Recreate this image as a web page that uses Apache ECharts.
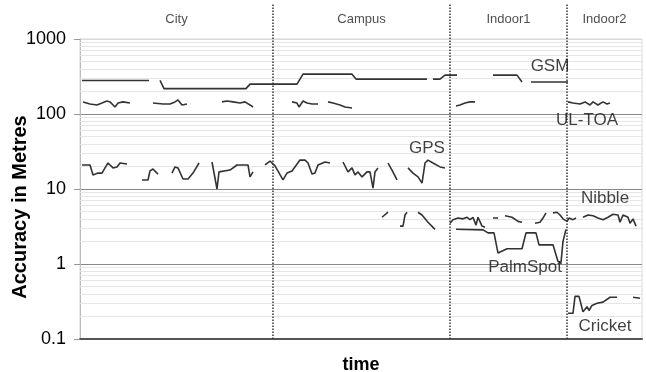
<!DOCTYPE html>
<html>
<head>
<meta charset="utf-8">
<script src="https://cdn.jsdelivr.net/npm/echarts@6/dist/echarts.min.js"></script>
<style>
  html, body { margin: 0; padding: 0; background: #fff; }
  #chart { width: 646px; height: 372px; }
</style>
</head>
<body>
<div id="chart"></div>
<script>
// time axis runs 0..562, environments split at these times
const tMax = 562;
const regions = ["City", "Campus", "Indoor1", "Indoor2"];
const bounds = [0, 193, 370, 487, 562];

// log grid
const yTicks = [0.1, 1, 10, 100, 1000];
const minorVals = [0.2, 0.3, 0.4, 0.5, 0.6, 0.7, 0.8, 0.9, 2, 3, 4, 5, 6, 7, 8, 9,
  20, 30, 40, 50, 60, 70, 80, 90, 200, 300, 400, 500, 600, 700, 800, 900];

// each system: list of segments of [time, metres]
const gsm = [
  [[2, 280], [69, 280]],
  [[80, 280], [84, 218], [166, 218], [170, 250], [217, 250], [223, 340], [272, 340], [276, 292], [347, 292]],
  [[353, 292], [360, 292], [365, 330], [377, 330]],
  [[413, 330], [437, 330], [442, 267]],
  [[451, 267], [488, 267]]
];
const ulToa = [
  [[3, 145], [10, 136], [17, 132], [22, 140], [27, 149], [30, 145], [35, 124], [38, 140], [43, 145], [50, 140]],
  [[73, 140], [83, 136], [90, 136], [95, 145], [98, 154], [102, 132], [104, 140], [107, 136]],
  [[142, 145], [147, 149], [153, 145], [160, 140], [165, 145], [170, 132], [173, 124]],
  [[212, 145], [217, 140], [219, 124], [223, 149], [227, 140], [232, 136], [238, 136]],
  [[248, 145], [253, 140], [260, 132], [265, 124], [272, 120]],
  [[376, 128], [380, 132], [385, 140], [390, 145], [395, 145]],
  [[488, 145], [493, 140], [500, 136], [505, 145], [510, 132], [513, 145], [518, 132], [523, 145], [527, 136], [530, 140]]
];
const gps = [
  [[2, 20.9], [10, 20.9], [13, 15.4], [18, 16.3], [22, 16.3], [25, 19.1], [28, 22.2], [33, 19.1], [37, 19.7], [40, 22.2], [47, 21.5]],
  [[62, 13.2], [68, 13.2], [70, 17.4], [73, 18.5], [78, 15.8]],
  [[92, 16.3], [95, 19.7], [98, 19.1], [103, 13.6], [108, 13.6], [113, 16.3], [119, 22.2]],
  [[132, 22.9], [137, 10.0], [139, 16.9], [150, 17.9], [157, 20.9], [168, 20.9], [170, 14.5], [173, 16.9]],
  [[185, 20.9], [190, 23.6], [195, 20.3], [203, 13.2], [207, 16.3], [212, 17.4], [220, 24.3], [225, 24.3], [228, 22.2], [232, 15.8], [235, 16.3], [238, 20.9], [245, 22.9], [250, 22.2]],
  [[263, 22.9], [268, 16.9], [272, 19.1], [275, 15.4], [278, 16.9], [282, 14.5], [287, 16.9], [290, 16.9], [293, 10.3], [295, 16.9], [298, 19.1]],
  [[308, 22.2], [312, 17.9], [317, 13.2]],
  [[328, 19.1], [333, 16.3], [338, 14.5], [342, 12.0], [345, 22.2], [348, 24.3], [353, 22.2], [360, 19.7], [365, 19.1]]
];
const nibble = [
  [[302, 4.2], [308, 4.9]],
  [[320, 3.2], [323, 3.2], [325, 4.5], [327, 4.9]],
  [[338, 4.9], [342, 4.5], [348, 3.6], [355, 2.9]],
  [[370, 3.5], [373, 3.9], [378, 4.1], [383, 4.0], [387, 4.2], [390, 3.9], [393, 4.2], [396, 3.3], [398, 4.2], [402, 3.2], [405, 3.1]],
  [[413, 4.1], [418, 4.1]],
  [[425, 4.4], [432, 4.2], [438, 3.7], [442, 3.6]],
  [[455, 3.5], [460, 3.6], [463, 4.1], [466, 4.8]],
  [[473, 4.8], [477, 4.9], [480, 4.5], [483, 4.0], [487, 3.7], [489, 4.1], [493, 3.9], [496, 4.1]],
  [[503, 4.2], [508, 4.5], [513, 4.4], [518, 4.1], [523, 3.9], [528, 4.2], [533, 4.6], [538, 4.5], [540, 3.6], [543, 4.5], [548, 4.2], [550, 3.5], [553, 4.0], [556, 3.2]]
];
const palmSpot = [
  [[376, 2.9], [403, 2.85], [408, 2.6], [414, 2.6], [418, 1.4], [427, 1.6], [442, 1.6], [446, 2.6], [456, 2.6], [459, 1.8], [473, 1.8], [478, 1.08], [481, 1.05], [483, 2.0], [486, 2.9]]
];
const cricket = [
  [[488, 0.22], [493, 0.22], [495, 0.37], [499, 0.37], [503, 0.23], [507, 0.27], [509, 0.24], [512, 0.28], [517, 0.30], [523, 0.31], [530, 0.36], [537, 0.36]],
  [[553, 0.36], [560, 0.35]]
];

const systems = [
  { name: "GSM", segs: gsm },
  { name: "UL-TOA", segs: ulToa },
  { name: "GPS", segs: gps },
  { name: "Nibble", segs: nibble },
  { name: "PalmSpot", segs: palmSpot },
  { name: "Cricket", segs: cricket }
];
// where each name is written, [time, metres]
const tagPos = [[470, 437], [507, 83], [347, 35], [525, 7.6], [445, 0.91], [525, 0.149]];

const chart = echarts.init(document.getElementById("chart"));
const FONT = "Liberation Sans, Arial, sans-serif";

//join segments with a gap point
function joinSegs(segs) {
  const out = [];
  segs.forEach((s, i) => {
    if (i > 0) out.push(["-", "-"]);
    s.forEach(p => out.push(p));
  });
  return out;
}

const lineSeries = systems.map(s => ({
  name: s.name,
  type: "line",
  data: joinSegs(s.segs),
  symbol: "none",
  connectNulls: false,
  lineStyle: { color: "#333", width: 1.6 },
  silent: true,
  z: 5
}));

const option = {
  animation: false,
  grid: [
    { left: 80, right: 4, top: 39, bottom: 33, show: true, borderColor: "#d9d9d9", borderWidth: 1, outerBoundsMode: "none", containLabel: false },
    { left: 80, right: 4, top: 3, bottom: 33, outerBoundsMode: "none", containLabel: false }
  ],
  xAxis: [
    {
      type: "value",
      gridIndex: 0,
      min: 0,
      max: tMax,
      name: "time",
      nameLocation: "middle",
      nameGap: 17,
      nameMoveOverlap: false,
      nameTextStyle: { fontFamily: FONT, fontWeight: "bold", fontSize: 18, color: "#000" },
      axisLine: { lineStyle: { color: "#555", width: 2 } },
      axisTick: { show: false },
      axisLabel: { show: false },
      splitLine: { show: false }
    },
    { type: "value", gridIndex: 1, min: 0, max: tMax, show: false }
  ],
  yAxis: [
    {
      type: "log",
      gridIndex: 0,
      logBase: 10,
      min: 0.1,
      max: 1000,
      name: "Accuracy in Metres",
      nameLocation: "middle",
      nameRotate: 90,
      nameGap: 50,
      nameMoveOverlap: false,
      nameTextStyle: { fontFamily: FONT, fontWeight: "bold", fontSize: 20, color: "#000", padding: [0, 36, 0, 0] },
      axisLine: { show: true, lineStyle: { color: "#bbb", width: 1 } },
      axisTick: { show: true, length: 6, lineStyle: { color: "#999" } },
      axisLabel: {
        fontFamily: FONT,
        fontSize: 18,
        color: "#000",
        margin: 14,
        formatter: v => String(v)
      },
      splitLine: { show: true, lineStyle: { color: ["#888", "#888", "#888", "#888", "#d9d9d9"], width: 1.2 } }
    },
    { type: "value", gridIndex: 1, min: 0, max: 1, show: false }
  ],
  series: [
    // light minor gridlines at 2..9 of each decade
    {
      type: "line",
      data: [],
      silent: true,
      z: 1,
      markLine: {
        silent: true,
        symbol: "none",
        label: { show: false },
        lineStyle: { color: "#e6e6e6", type: "solid", width: 1 },
        data: minorVals.map(v => ({ yAxis: v }))
      }
    },
    ...lineSeries,
    // names next to the curves
    {
      type: "scatter",
      symbolSize: 0,
      silent: true,
      z: 6,
      data: systems.map((s, i) => ({ value: tagPos[i], name: s.name })),
      label: {
        show: true,
        position: "inside",
        formatter: p => p.name,
        fontFamily: FONT,
        fontSize: 17,
        color: "#111"
      }
    },
    // dotted separators and environment names
    {
      type: "scatter",
      xAxisIndex: 1,
      yAxisIndex: 1,
      symbolSize: 0,
      silent: true,
      z: 4,
      data: regions.map((r, i) => ({ value: [(bounds[i] + bounds[i + 1]) / 2, 0.95], name: r })),
      label: {
        show: true,
        position: "inside",
        formatter: p => p.name,
        fontFamily: FONT,
        fontSize: 13,
        color: "#222"
      },
      markLine: {
        silent: true,
        symbol: "none",
        label: { show: false },
        lineStyle: { color: "#333", type: "dotted", width: 1.5 },
        data: bounds.slice(1, 4).map(b => ({ xAxis: b }))
      }
    }
  ]
};

chart.setOption(option);
</script>
</body>
</html>
